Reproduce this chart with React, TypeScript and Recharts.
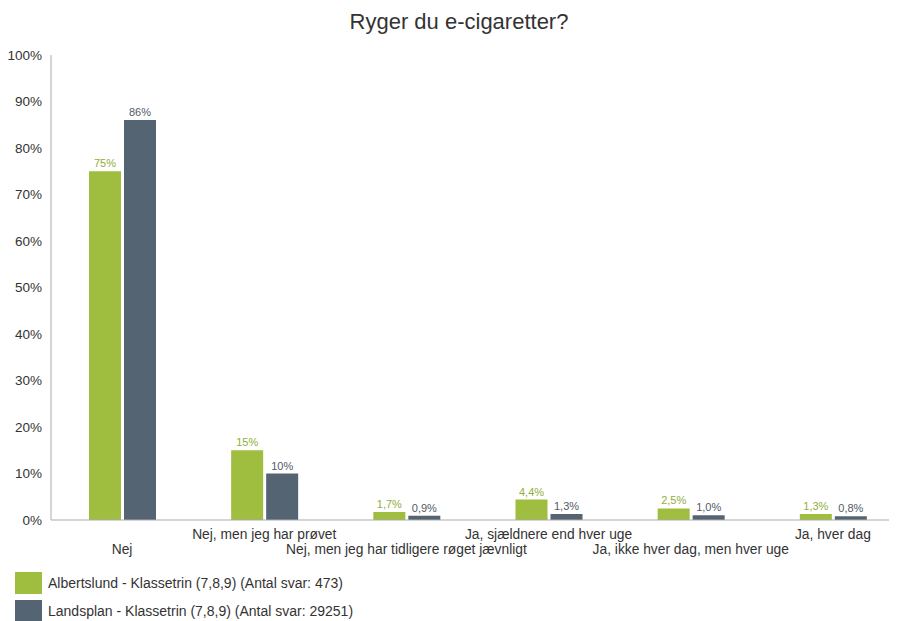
import { Bar, BarChart, LabelList, XAxis, YAxis } from "recharts";

const categories = [
  "Nej",
  "Nej, men jeg har prøvet",
  "Nej, men jeg har tidligere røget jævnligt",
  "Ja, sjældnere end hver uge",
  "Ja, ikke hver dag, men hver uge",
  "Ja, hver dag",
];
const albertslund = [75, 15, 1.7, 4.4, 2.5, 1.3];
const landsplan = [86, 10, 0.9, 1.3, 1.0, 0.8];
const yTicks = [0, 10, 20, 30, 40, 50, 60, 70, 80, 90, 100];

const seriesNames = {
  albertslund: "Albertslund - Klassetrin (7,8,9) (Antal svar: 473)",
  landsplan: "Landsplan - Klassetrin (7,8,9) (Antal svar: 29251)",
};

const green = "#9fbe40";
const slate = "#556473";
const font = "'Liberation Sans', Arial, sans-serif";

const data = categories.map((name, i) => ({
  name,
  albertslund: albertslund[i],
  landsplan: landsplan[i],
}));

const fmt = (v: number) =>
  v >= 10 ? `${Math.round(v)}%` : `${v.toFixed(1).replace(".", ",")}%`;

function CategoryTick(props: any) {
  const { x, y, payload, index } = props;
  const dy = index % 2 === 0 ? 26 : 11;
  return (
    <text x={x} y={y + dy} textAnchor="middle" fontSize={13.8} fill="#333" fontFamily={font}>
      {payload.value}
    </text>
  );
}

function LegendRow({ color, label, top }: { color: string; label: string; top: number }) {
  return (
    <div style={{ position: "absolute", left: 7, top, display: "flex", alignItems: "center" }}>
      <div style={{ width: 27, height: 22, background: color }} />
      <span style={{ marginLeft: 6, fontSize: 14, color: "#333", fontFamily: font }}>{label}</span>
    </div>
  );
}

export default function App() {
  return (
    <div style={{ position: "relative", width: 889, height: 613, overflow: "hidden", fontFamily: font }}>
      <div
        style={{
          position: "absolute",
          top: 0,
          left: 0,
          width: 902,
          textAlign: "center",
          fontSize: 22,
          lineHeight: "28px",
          color: "#333",
        }}
      >
        Ryger du e-cigaretter?
      </div>
      <BarChart
        width={900}
        height={562}
        data={data}
        margin={{ top: 47, right: 4, left: 0, bottom: 0 }}
        barSize={32}
        barGap={3}
        style={{ position: "absolute", top: 0, left: 0 }}
      >
        <XAxis
          dataKey="name"
          axisLine={{ stroke: "#aaa" }}
          tickLine={false}
          interval={0}
          height={50}
          tick={<CategoryTick />}
        />
        <YAxis
          domain={[0, 100]}
          ticks={yTicks}
          width={43}
          axisLine={{ stroke: "#aaa" }}
          tickLine={false}
          tickSize={0}
          tickMargin={9}
          tickFormatter={(v) => `${v}%`}
          tick={{ fontSize: 13.5, fill: "#333", fontFamily: font }}
        />
        <Bar dataKey="albertslund" fill={green} isAnimationActive={false}>
          <LabelList
            dataKey="albertslund"
            position="top"
            offset={4}
            formatter={(v: any) => fmt(Number(v))}
            style={{ fontSize: 11, fill: "#8fae3a", fontFamily: font }}
          />
        </Bar>
        <Bar dataKey="landsplan" fill={slate} isAnimationActive={false}>
          <LabelList
            dataKey="landsplan"
            position="top"
            offset={4}
            formatter={(v: any) => fmt(Number(v))}
            style={{ fontSize: 11, fill: "#4f5b68", fontFamily: font }}
          />
        </Bar>
      </BarChart>
      <LegendRow color={green} label={seriesNames.albertslund} top={564} />
      <LegendRow color={slate} label={seriesNames.landsplan} top={592} />
    </div>
  );
}
